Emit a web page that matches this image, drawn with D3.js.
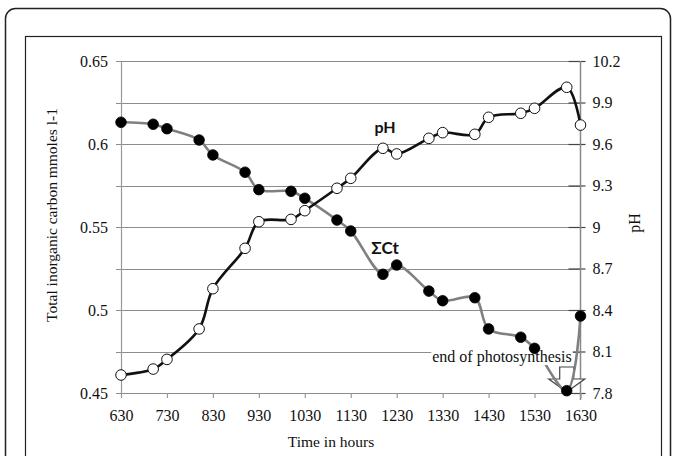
<!DOCTYPE html>
<html>
<head>
<meta charset="utf-8">
<script src="https://cdn.jsdelivr.net/npm/d3@7"></script>
<style>
  body { margin: 0; background: #fff; }
  svg text { font-family: "Liberation Serif", "Times New Roman", serif; fill: #111; }
</style>
</head>
<body>
<div id="chart"></div>
<script>
// time of day as plotted (hhmm)
const times = [630, 700, 730, 800, 830, 900, 930, 1000, 1030, 1100, 1130, 1200, 1230,
  1300, 1330, 1400, 1430, 1500, 1530, 1600, 1630];
// total inorganic carbon, mmoles l-1
const carbon = [0.6131, 0.6119, 0.6092, 0.6024, 0.5934, 0.5830, 0.5725, 0.5715, 0.5673,
  0.5542, 0.5476, 0.5215, 0.5271, 0.5114, 0.5056, 0.5074, 0.4886, 0.4836, 0.4769, 0.4514, 0.4964];
// pH
const ph = [7.93, 7.973, 8.043, 8.263, 8.554, 8.846, 9.038, 9.055, 9.118, 9.28, 9.352,
  9.569, 9.528, 9.641, 9.682, 9.67, 9.793, 9.822, 9.858, 10.01, 9.737];

const xTicks = [630, 730, 830, 930, 1030, 1130, 1230, 1330, 1430, 1530, 1630];
const leftTicks = [0.45, 0.5, 0.55, 0.6, 0.65];
const gridVals = [0.45, 0.475, 0.5, 0.525, 0.55, 0.575, 0.6, 0.625, 0.65];
const rightTicks = [7.8, 8.1, 8.4, 8.7, 9, 9.3, 9.6, 9.9, 10.2];

const W = 677, H = 456;
const plot = { left: 121, right: 580.5, top: 61, bottom: 393 };

const svg = d3.select('#chart').append('svg')
  .attr('width', W).attr('height', H);

// frames
svg.append('rect')
  .attr('x', 5.5).attr('y', 8.5).attr('width', 665).attr('height', 480)
  .attr('rx', 10).attr('fill', 'none').attr('stroke', '#222').attr('stroke-width', 1.5);
svg.append('rect')
  .attr('x', 25.5).attr('y', 36.5).attr('width', 636).attr('height', 460)
  .attr('fill', 'none').attr('stroke', '#222').attr('stroke-width', 1.2);

const x = d3.scaleLinear().domain([630, 1630]).range([plot.left, plot.right]);
const yL = d3.scaleLinear().domain([0.45, 0.65]).range([plot.bottom, plot.top]);
const yR = d3.scaleLinear().domain([7.8, 10.2]).range([plot.bottom, plot.top]);

// gridlines
svg.append('g').selectAll('line')
  .data(gridVals)
  .enter().append('line')
  .attr('x1', plot.left - 5).attr('x2', plot.right)
  .attr('y1', d => Math.round(yL(d)) + 0.5).attr('y2', d => Math.round(yL(d)) + 0.5)
  .attr('stroke', '#8c8c8c').attr('stroke-width', 1.2);

// left axis
const leftAxis = svg.append('g')
  .attr('transform', `translate(${plot.left},0)`)
  .call(d3.axisLeft(yL).tickValues(leftTicks).tickFormat(d3.format('')).tickSize(0).tickPadding(13));
leftAxis.select('.domain').attr('stroke', '#999').attr('stroke-width', 1.2);
leftAxis.selectAll('text').style('font-size', '16px').style('fill', '#111');

// right axis
const rightAxis = svg.append('g')
  .attr('transform', `translate(${plot.right},0)`)
  .call(d3.axisRight(yR).tickValues(rightTicks).tickFormat(d3.format('')).tickSize(5).tickPadding(7));
rightAxis.select('.domain').remove();
rightAxis.append('line')
  .attr('x1', 0).attr('x2', 0).attr('y1', plot.top).attr('y2', plot.bottom + 7)
  .attr('stroke', '#888').attr('stroke-width', 1.5);
rightAxis.selectAll('.tick line').attr('x1', -12).attr('stroke', '#444').attr('stroke-width', 1.2);
rightAxis.selectAll('text').style('font-size', '16px').style('fill', '#111');

// x axis
const xAxis = svg.append('g')
  .attr('transform', `translate(0,${plot.bottom})`)
  .call(d3.axisBottom(x).tickValues(xTicks).tickFormat(d3.format('')).tickSize(5).tickPadding(12));
xAxis.select('.domain').remove();
xAxis.selectAll('.tick line').attr('stroke', '#999').attr('stroke-width', 1.2);
xAxis.selectAll('text').style('font-size', '16px').style('fill', '#111');

// axis titles
svg.append('text')
  .attr('transform', 'translate(57,215) rotate(-90)')
  .attr('text-anchor', 'middle').style('font-size', '15.5px')
  .text('Total inorganic carbon mmoles l-1');
svg.append('text')
  .attr('transform', 'translate(640,223) rotate(-90)')
  .attr('text-anchor', 'middle').style('font-size', '16px')
  .text('pH');
svg.append('text')
  .attr('x', 331).attr('y', 447)
  .attr('text-anchor', 'middle').style('font-size', '15.5px')
  .text('Time in hours');

// block arrow marking the end of photosynthesis
const ax = x(1600), ay = yL(0.45) - 1;
const arrow = [[ax - 7, ay - 25], [ax + 7, ay - 25], [ax + 7, ay - 13], [ax + 18, ay - 13],
  [ax, ay], [ax - 18, ay - 13], [ax - 7, ay - 13]];
svg.append('path')
  .attr('d', d3.line()(arrow) + 'Z')
  .attr('fill', '#fff').attr('stroke', '#444').attr('stroke-width', 1.2);

const pts = times.map((t, i) => ({ t, c: carbon[i], p: ph[i] }));

const curve = d3.curveCatmullRom.alpha(0.5);
svg.append('path')
  .datum(pts)
  .attr('fill', 'none').attr('stroke', '#808080').attr('stroke-width', 2.6)
  .attr('d', d3.line().curve(curve).x(d => x(d.t)).y(d => yL(d.c)));
svg.append('path')
  .datum(pts)
  .attr('fill', 'none').attr('stroke', '#111').attr('stroke-width', 2.6)
  .attr('d', d3.line().curve(curve).x(d => x(d.t)).y(d => yR(d.p)));

// annotation text with white box
const note = svg.append('g');
const noteBox = note.append('rect').attr('fill', '#fff');
const noteText = note.append('text')
  .attr('x', 502).attr('y', 362)
  .attr('text-anchor', 'middle').style('font-size', '16px')
  .text('end of photosynthesis');
const bb = noteText.node().getBBox();
noteBox.attr('x', bb.x - 1).attr('y', bb.y + 2).attr('width', bb.width + 2).attr('height', bb.height - 3);

// markers
svg.append('g').selectAll('circle')
  .data(pts)
  .enter().append('circle')
  .attr('cx', d => x(d.t)).attr('cy', d => yL(d.c)).attr('r', 5.3)
  .attr('fill', '#000').attr('stroke', '#000').attr('stroke-width', 0.8);
svg.append('g').selectAll('circle')
  .data(pts)
  .enter().append('circle')
  .attr('cx', d => x(d.t)).attr('cy', d => yR(d.p)).attr('r', 5.3)
  .attr('fill', '#fff').attr('stroke', '#111').attr('stroke-width', 1);

// series labels
svg.append('text')
  .attr('x', 385).attr('y', 133).attr('text-anchor', 'middle')
  .style('font-family', 'Lato, "Liberation Sans", sans-serif')
  .style('font-weight', 'bold').style('font-size', '16px')
  .text('pH');
svg.append('text')
  .attr('x', 385).attr('y', 254).attr('text-anchor', 'middle')
  .style('font-family', 'Lato, "Liberation Sans", sans-serif')
  .style('font-weight', 'bold').style('font-size', '17px')
  .text('ΣCt');
</script>
</body>
</html>
